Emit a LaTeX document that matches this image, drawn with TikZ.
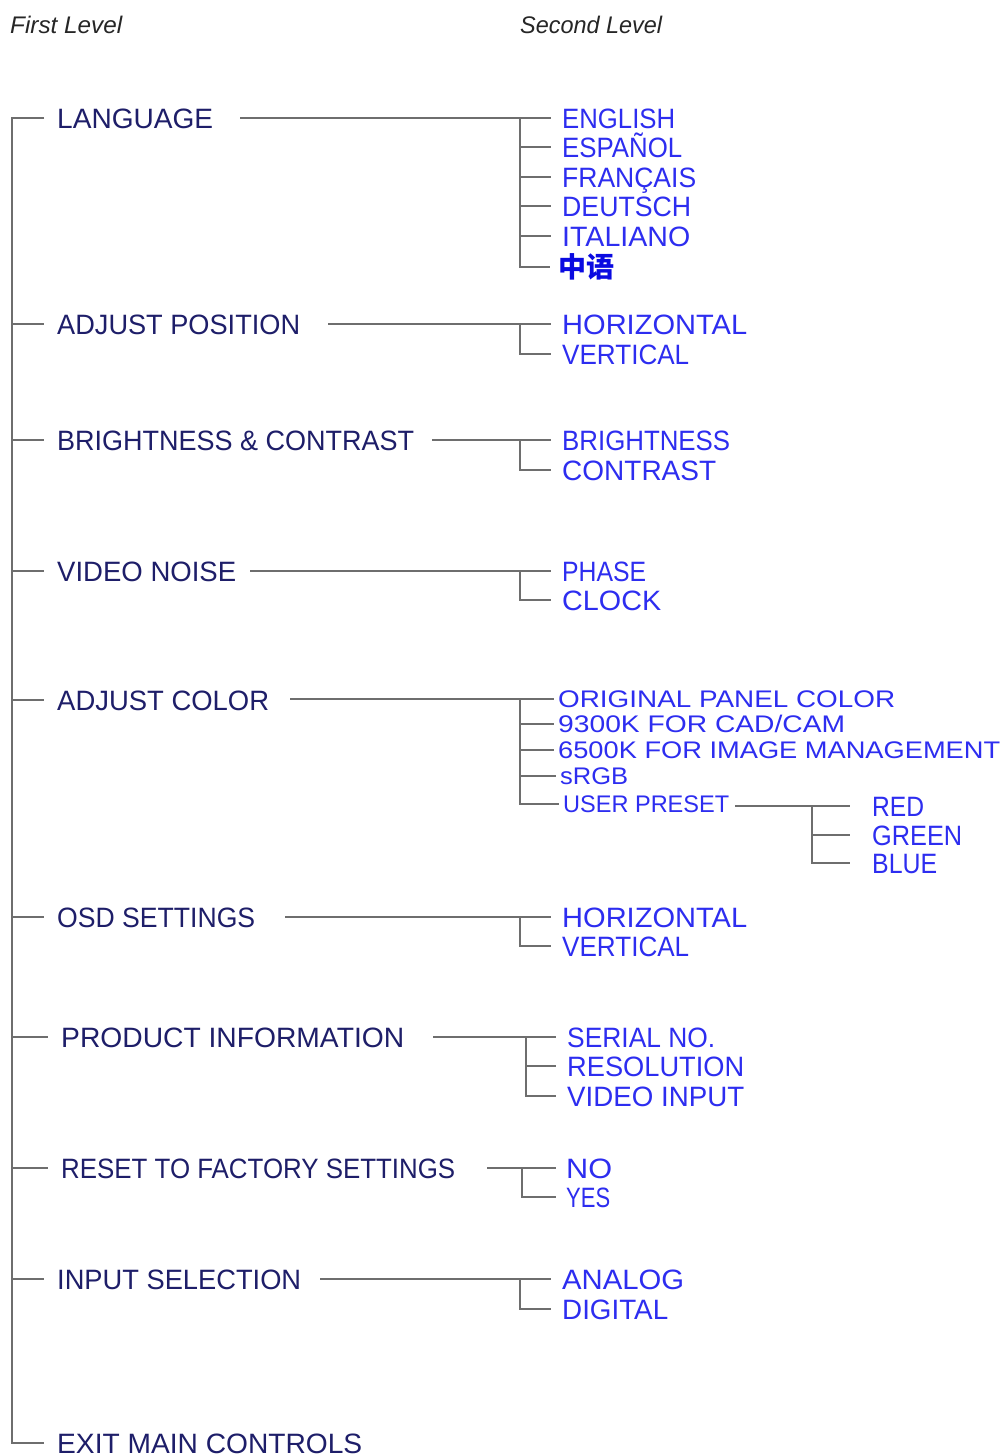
\documentclass[tikz,border=0pt]{standalone}
\usepackage{graphicx}
\usepackage{fontspec}
\setmainfont{Liberation Sans}
\newfontfamily\cjk{Noto Sans CJK SC}
\definecolor{navy}{RGB}{30,30,105}
\definecolor{itemblue}{RGB}{45,45,240}
\definecolor{cnblue}{RGB}{10,10,225}
\definecolor{wire}{RGB}{110,110,110}
\newcommand\fitw[2]{\setbox0=\hbox{#2}\pgfmathsetmacro\fitfac{#1/\the\wd0}\scalebox{\fitfac}[1]{\box0}}
\begin{document}
\begin{tikzpicture}[x=1pt,y=-1pt,
  lone/.style={anchor=west,inner sep=0pt,text=navy,font=\fontsize{28}{30}\selectfont,text height=20pt,text depth=0pt},
  ltwo/.style={anchor=west,inner sep=0pt,text=itemblue,font=\fontsize{28}{30}\selectfont,text height=20pt,text depth=0pt},
  lsmall/.style={anchor=west,inner sep=0pt,text=itemblue,font=\fontsize{24}{26}\selectfont,text height=17.2pt,text depth=0pt},
  lcn/.style={anchor=west,inner sep=0pt,text=cnblue,font=\fontsize{28}{30}\selectfont\cjk\bfseries,text height=20pt,text depth=0pt},
  hdr/.style={anchor=west,inner sep=0pt,text=black!85,font=\fontsize{24}{26}\selectfont\itshape},
  conn/.style={draw=wire,line width=1.5pt},
  tip/.style={conn,shorten >=11pt},
  tipc/.style={conn,shorten >=4pt}]
\useasboundingbox[fill=white] (0,0) rectangle (1008,1456);

% headers
\node[hdr] (h1) at (10,25) {\fitw{112}{First Level}};
\node[hdr] (h2) at (520,25) {\fitw{142}{Second Level}};

% first level
\coordinate (trunk) at (12,118);
\node[lone] (lang)   at (57,118)  {\fitw{156}{LANGUAGE}};
\node[lone] (adjpos) at (57,324)  {\fitw{243}{ADJUST POSITION}};
\node[lone] (bright) at (57,440)  {\fitw{357}{BRIGHTNESS \& CONTRAST}};
\node[lone] (noise)  at (57,571)  {\fitw{179}{VIDEO NOISE}};
\node[lone] (color)  at (57,700)  {\fitw{212}{ADJUST COLOR}};
\node[lone] (osd)    at (57,917)  {\fitw{198}{OSD SETTINGS}};
\node[lone] (prod)   at (61,1037) {\fitw{343}{PRODUCT INFORMATION}};
\node[lone] (reset)  at (61,1168) {\fitw{394}{RESET TO FACTORY SETTINGS}};
\node[lone] (input)  at (57,1279) {\fitw{244}{INPUT SELECTION}};
\node[lone] (exit)   at (57,1443) {\fitw{305}{EXIT MAIN CONTROLS}};

% trunk
\draw[conn,shorten <=13pt,shorten >=13pt] (lang.west) -- (lang.west -| trunk) -- (exit.west -| trunk) -- (exit.west);
\foreach \n in {adjpos,bright,noise,color,osd,prod,reset,input}
  \draw[conn,shorten >=13pt] (\n.west -| trunk) -- (\n.west);

% LANGUAGE
\node[ltwo] (en) at (562,118) {\fitw{113}{ENGLISH}};
\node[ltwo] (es) at (562,147) {\fitw{120}{ESPAÑOL}};
\node[ltwo] (fr) at (562,177) {\fitw{134}{FRANÇAIS}};
\node[ltwo] (de) at (562,206) {\fitw{129}{DEUTSCH}};
\node[ltwo] (it) at (562,236) {\fitw{128}{ITALIANO}};
\node[lcn]  (zh) at (558,267) {中语};
\coordinate (langS) at (240,118);
\coordinate (langJ) at (520,118);
\draw[tip] (langS) -- (en.west);
\draw[conn,shorten >=8pt] (langJ) |- (zh.west);
\foreach \n in {es,fr,de,it} \draw[tip] (\n.west -| langJ) -- (\n.west);

% ADJUST POSITION
\node[ltwo] (aph) at (562,324) {\fitw{185}{HORIZONTAL}};
\node[ltwo] (apv) at (562,354) {\fitw{127}{VERTICAL}};
\coordinate (apS) at (328,324);
\coordinate (apJ) at (520,324);
\draw[tip] (apS) -- (aph.west);
\draw[tip] (apJ) |- (apv.west);

% BRIGHTNESS & CONTRAST
\node[ltwo] (bcb) at (562,440) {\fitw{168}{BRIGHTNESS}};
\node[ltwo] (bcc) at (562,470) {\fitw{154}{CONTRAST}};
\coordinate (bcS) at (432,440);
\coordinate (bcJ) at (520,440);
\draw[tip] (bcS) -- (bcb.west);
\draw[tip] (bcJ) |- (bcc.west);

% VIDEO NOISE
\node[ltwo] (vnp) at (562,571) {\fitw{84}{PHASE}};
\node[ltwo] (vnc) at (562,600) {\fitw{99}{CLOCK}};
\coordinate (vnS) at (250,571);
\coordinate (vnJ) at (520,571);
\draw[tip] (vnS) -- (vnp.west);
\draw[tip] (vnJ) |- (vnc.west);

% ADJUST COLOR
\node[lsmall] (co1) at (558,699) {\fitw{337}{ORIGINAL PANEL COLOR}};
\node[lsmall] (co2) at (558,724) {\fitw{287}{9300K FOR CAD/CAM}};
\node[lsmall] (co3) at (558,750) {\fitw{442}{6500K FOR IMAGE MANAGEMENT}};
\node[lsmall] (co4) at (560,776) {\fitw{68}{sRGB}};
\node[lsmall] (co5) at (563,804) {\fitw{166}{USER PRESET}};
\coordinate (coS) at (290,699);
\coordinate (coJ) at (520,699);
\draw[tipc] (coS) -- (co1.west);
\draw[tipc] (coJ) |- (co5.west);
\foreach \n in {co2,co3,co4} \draw[tipc] (\n.west -| coJ) -- (\n.west);

% USER PRESET
\node[ltwo] (upr) at (872,806) {\fitw{52}{RED}};
\node[ltwo] (upg) at (872,835) {\fitw{90}{GREEN}};
\node[ltwo] (upb) at (872,863) {\fitw{65}{BLUE}};
\coordinate (upS) at (735,806);
\coordinate (upJ) at (812,806);
\draw[conn,shorten >=22pt] (upS) -- (upr.west);
\draw[conn,shorten >=22pt] (upJ) |- (upb.west);
\draw[conn,shorten >=22pt] (upg.west -| upJ) -- (upg.west);

% OSD SETTINGS
\node[ltwo] (osh) at (562,917) {\fitw{185}{HORIZONTAL}};
\node[ltwo] (osv) at (562,946) {\fitw{127}{VERTICAL}};
\coordinate (osS) at (285,917);
\coordinate (osJ) at (520,917);
\draw[tip] (osS) -- (osh.west);
\draw[tip] (osJ) |- (osv.west);

% PRODUCT INFORMATION
\node[ltwo] (pi1) at (567,1037) {\fitw{148}{SERIAL NO.}};
\node[ltwo] (pi2) at (567,1066) {\fitw{177}{RESOLUTION}};
\node[ltwo] (pi3) at (567,1096) {\fitw{177}{VIDEO INPUT}};
\coordinate (piS) at (433,1037);
\coordinate (piJ) at (526,1037);
\draw[tip] (piS) -- (pi1.west);
\draw[tip] (piJ) |- (pi3.west);
\draw[tip] (pi2.west -| piJ) -- (pi2.west);

% RESET
\node[ltwo] (rsn) at (566,1168) {\fitw{46}{NO}};
\node[ltwo] (rsy) at (566,1197) {\fitw{44}{YES}};
\coordinate (rsS) at (487,1168);
\coordinate (rsJ) at (522,1168);
\draw[conn,shorten >=10pt] (rsS) -- (rsn.west);
\draw[conn,shorten >=10pt] (rsJ) |- (rsy.west);

% INPUT SELECTION
\node[ltwo] (isa) at (562,1279) {\fitw{122}{ANALOG}};
\node[ltwo] (isd) at (562,1309) {\fitw{106}{DIGITAL}};
\coordinate (isS) at (320,1279);
\coordinate (isJ) at (520,1279);
\draw[tip] (isS) -- (isa.west);
\draw[tip] (isJ) |- (isd.west);
\end{tikzpicture}
\end{document}
